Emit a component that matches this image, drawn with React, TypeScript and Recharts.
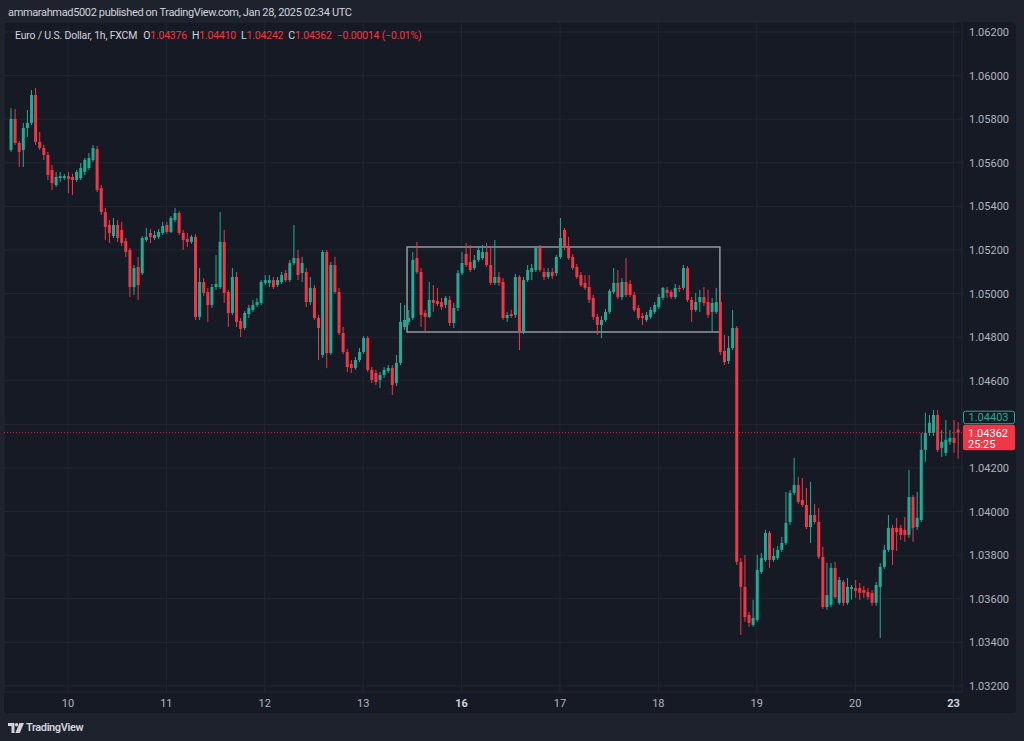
import {
  ComposedChart,
  Bar,
  XAxis,
  YAxis,
  CartesianGrid,
  ReferenceArea,
  ReferenceLine,
} from 'recharts';

// EUR/USD 1h candles, Dec 9 – Dec 23 2024 (FXCM)
const opens = [
  1.05659, 1.05801, 1.05691, 1.05659, 1.0576, 1.05783, 1.05911, 1.05696, 1.05668, 1.05636, 1.05567, 1.05498,
  1.0553, 1.0553, 1.05539, 1.05535, 1.05521, 1.0553, 1.05558, 1.05576, 1.05613, 1.05663, 1.05484, 1.05374,
  1.05315, 1.05264, 1.05315, 1.05292, 1.05241, 1.052, 1.0503, 1.05122, 1.05094, 1.05246, 1.05278, 1.05255,
  1.0526, 1.05278, 1.05315, 1.05283, 1.05338, 1.0537, 1.05278, 1.0525, 1.05237, 1.0526, 1.04893, 1.05053,
  1.05007, 1.04948, 1.0503, 1.0503, 1.05237, 1.05007, 1.04911, 1.05076, 1.04874, 1.04842, 1.04906, 1.04925,
  1.04948, 1.04957, 1.05049, 1.05049, 1.05062, 1.05039, 1.05053, 1.05094, 1.05062, 1.0514, 1.05163, 1.05094,
  1.05099, 1.04961, 1.05026, 1.04888, 1.04718, 1.05191, 1.04727, 1.05131, 1.05007, 1.04819, 1.04732, 1.04677,
  1.04659, 1.04695, 1.04732, 1.04796, 1.0465, 1.04636, 1.04604, 1.04627, 1.04645, 1.04659, 1.0459, 1.04682,
  1.04847, 1.0487, 1.04888, 1.05163, 1.05099, 1.04911, 1.04893, 1.04971, 1.04966, 1.04961, 1.04948, 1.04971,
  1.04865, 1.04934, 1.05094, 1.05182, 1.05145, 1.05117, 1.05154, 1.05163, 1.05191, 1.05131, 1.05049, 1.05076,
  1.05053, 1.04888, 1.04906, 1.04902, 1.05076, 1.04824, 1.05062, 1.05099, 1.05108, 1.05209, 1.05099, 1.05076,
  1.05099, 1.05094, 1.05168, 1.05292, 1.05214, 1.05168, 1.05122, 1.05085, 1.05049, 1.0503, 1.0498, 1.04893,
  1.04856, 1.04879, 1.04916, 1.05007, 1.05049, 1.04984, 1.05053, 1.05044, 1.04994, 1.04934, 1.04897, 1.04879,
  1.04893, 1.04916, 1.04938, 1.0498, 1.05017, 1.05007, 1.04984, 1.05026, 1.05026, 1.05117, 1.04971, 1.04925,
  1.04961, 1.04984, 1.04961, 1.04916, 1.04916, 1.04961, 1.04737, 1.04691, 1.0475, 1.04842, 1.03769, 1.03654,
  1.03526, 1.0348, 1.03503, 1.03723, 1.03778, 1.03902, 1.03778, 1.03787, 1.03824, 1.03856, 1.03952, 1.04086,
  1.04122, 1.04053, 1.0403, 1.03929, 1.03984, 1.03952, 1.03792, 1.03562, 1.03572, 1.03741, 1.03581, 1.03677,
  1.03581, 1.03645, 1.03649, 1.03649, 1.0364, 1.03631, 1.03627, 1.03581, 1.03654, 1.03746, 1.03824, 1.03925,
  1.03925, 1.03925, 1.03916, 1.03893, 1.04067, 1.03929, 1.03961, 1.04283, 1.04361, 1.04361, 1.04443, 1.04292,
  1.04269, 1.0432, 1.04338, 1.04376,
];

const highs = [
  1.05851, 1.05847, 1.057, 1.05783, 1.05842, 1.05934, 1.05943, 1.05741, 1.05682, 1.0565, 1.0559, 1.05558,
  1.05558, 1.05549, 1.05558, 1.05549, 1.05567, 1.05599, 1.05622, 1.05645, 1.05682, 1.05677, 1.05498, 1.05393,
  1.05338, 1.05347, 1.05338, 1.05329, 1.05255, 1.05209, 1.05131, 1.05168, 1.05264, 1.05301, 1.05297, 1.05287,
  1.05297, 1.05329, 1.05329, 1.05356, 1.05393, 1.05379, 1.05292, 1.05278, 1.05269, 1.05273, 1.05117, 1.05071,
  1.05026, 1.05044, 1.05177, 1.05374, 1.05292, 1.05017, 1.05117, 1.05099, 1.04888, 1.0492, 1.04948, 1.04971,
  1.0498, 1.05062, 1.05085, 1.05085, 1.05076, 1.05076, 1.05099, 1.05108, 1.05154, 1.05315, 1.052, 1.05168,
  1.05117, 1.05076, 1.05039, 1.04902, 1.052, 1.052, 1.05145, 1.05168, 1.05026, 1.04847, 1.04746, 1.04695,
  1.04709, 1.0475, 1.04805, 1.04805, 1.04663, 1.0465, 1.0464, 1.04663, 1.04672, 1.04672, 1.04718, 1.04957,
  1.04948, 1.04925, 1.05191, 1.05237, 1.05117, 1.04925, 1.05053, 1.05039, 1.05026, 1.0498, 1.04989, 1.04989,
  1.04957, 1.05108, 1.05191, 1.05232, 1.05223, 1.05177, 1.05218, 1.05223, 1.05232, 1.05209, 1.05246, 1.05099,
  1.05071, 1.04916, 1.04925, 1.0509, 1.05085, 1.05076, 1.05131, 1.05136, 1.05218, 1.05223, 1.05117, 1.05117,
  1.05117, 1.05177, 1.05347, 1.05301, 1.0526, 1.05182, 1.05136, 1.05099, 1.05085, 1.05085, 1.04994, 1.04906,
  1.04897, 1.04929, 1.05021, 1.05117, 1.05108, 1.05071, 1.05163, 1.05062, 1.05007, 1.04948, 1.04911, 1.04916,
  1.04938, 1.04961, 1.04998, 1.0503, 1.0503, 1.05017, 1.05044, 1.05039, 1.05131, 1.05126, 1.04984, 1.05003,
  1.05017, 1.0503, 1.05017, 1.0498, 1.05026, 1.05007, 1.0481, 1.04805, 1.04925, 1.04851, 1.03787, 1.03801,
  1.03539, 1.03595, 1.03801, 1.0381, 1.03916, 1.03911, 1.03833, 1.03842, 1.03884, 1.0409, 1.04099, 1.04246,
  1.04159, 1.04154, 1.04108, 1.04136, 1.04035, 1.04016, 1.03838, 1.03764, 1.03764, 1.03769, 1.037, 1.03686,
  1.03695, 1.03663, 1.03686, 1.03672, 1.03659, 1.03649, 1.0364, 1.03677, 1.03764, 1.03847, 1.03984, 1.03939,
  1.03971, 1.03939, 1.03975, 1.04191, 1.04076, 1.0409, 1.04361, 1.04453, 1.04443, 1.04466, 1.04466, 1.04375,
  1.0442, 1.04375, 1.0442, 1.0441,
];

const lows = [
  1.0565, 1.05682, 1.05581, 1.05581, 1.05719, 1.05774, 1.05682, 1.05659, 1.05613, 1.05521, 1.05475, 1.05489,
  1.05512, 1.05521, 1.05461, 1.05452, 1.05512, 1.05521, 1.05544, 1.05567, 1.05604, 1.05466, 1.05361, 1.05246,
  1.05232, 1.05255, 1.05237, 1.05218, 1.05168, 1.04984, 1.04994, 1.04971, 1.05085, 1.05237, 1.05232, 1.05246,
  1.0525, 1.05269, 1.05274, 1.05278, 1.05329, 1.05269, 1.052, 1.05214, 1.05228, 1.04879, 1.04879, 1.04989,
  1.0487, 1.04934, 1.05017, 1.05021, 1.04957, 1.04847, 1.04902, 1.04847, 1.04801, 1.04833, 1.04888, 1.04916,
  1.04938, 1.04948, 1.05039, 1.0503, 1.05021, 1.0503, 1.05044, 1.05053, 1.05053, 1.05131, 1.05062, 1.05053,
  1.04938, 1.04948, 1.04879, 1.04695, 1.04705, 1.04658, 1.04718, 1.04998, 1.0481, 1.04723, 1.0464, 1.04636,
  1.0465, 1.04686, 1.04723, 1.0464, 1.0459, 1.04581, 1.04567, 1.04613, 1.04636, 1.04535, 1.04576, 1.04672,
  1.04833, 1.04856, 1.04879, 1.0509, 1.04847, 1.04824, 1.04888, 1.04916, 1.04943, 1.04925, 1.04934, 1.04851,
  1.04842, 1.0492, 1.05085, 1.05122, 1.05099, 1.05108, 1.05145, 1.05154, 1.05122, 1.05039, 1.05039, 1.05035,
  1.04879, 1.0487, 1.04888, 1.04888, 1.04741, 1.04815, 1.05053, 1.05062, 1.05099, 1.05099, 1.05062, 1.05067,
  1.05067, 1.05081, 1.05159, 1.052, 1.05154, 1.05108, 1.05067, 1.0503, 1.05017, 1.04957, 1.04879, 1.0481,
  1.04796, 1.0487, 1.04906, 1.04998, 1.04975, 1.04971, 1.04984, 1.04984, 1.04916, 1.04879, 1.04856, 1.0487,
  1.04884, 1.04906, 1.04929, 1.04971, 1.0498, 1.04975, 1.04975, 1.05007, 1.05017, 1.04961, 1.0487, 1.04916,
  1.04916, 1.04943, 1.04888, 1.04824, 1.04906, 1.04718, 1.04672, 1.04677, 1.04741, 1.03755, 1.03434, 1.03494,
  1.03471, 1.03471, 1.03494, 1.03714, 1.03769, 1.03741, 1.03769, 1.03778, 1.03815, 1.03847, 1.03939, 1.04076,
  1.04035, 1.04021, 1.0392, 1.03856, 1.03943, 1.03783, 1.03553, 1.03549, 1.03562, 1.03599, 1.03572, 1.03567,
  1.03572, 1.03595, 1.03604, 1.03595, 1.03604, 1.03595, 1.03567, 1.03567, 1.0342, 1.03737, 1.03815, 1.03755,
  1.03819, 1.0387, 1.03861, 1.03879, 1.03861, 1.03916, 1.03952, 1.04228, 1.04347, 1.04347, 1.04273, 1.04251,
  1.04255, 1.04306, 1.04269, 1.04242,
];

const closes = [
  1.05801, 1.05691, 1.0565, 1.0576, 1.05783, 1.05911, 1.05696, 1.05668, 1.05636, 1.05544, 1.05507, 1.05535,
  1.05539, 1.05539, 1.05526, 1.05521, 1.05558, 1.05576, 1.05613, 1.05622, 1.05668, 1.05475, 1.05374, 1.05306,
  1.05278, 1.05315, 1.05255, 1.05232, 1.05191, 1.0503, 1.05117, 1.05039, 1.05255, 1.0526, 1.0526, 1.05269,
  1.05283, 1.0531, 1.05283, 1.05347, 1.0537, 1.05278, 1.05246, 1.05237, 1.0526, 1.04893, 1.05053, 1.05003,
  1.04948, 1.0503, 1.05044, 1.05237, 1.05003, 1.04911, 1.05076, 1.0487, 1.04838, 1.04911, 1.04934, 1.04948,
  1.04961, 1.05053, 1.05062, 1.05062, 1.0503, 1.05062, 1.05085, 1.05062, 1.0514, 1.05163, 1.05085, 1.0514,
  1.04961, 1.05026, 1.04888, 1.04842, 1.05191, 1.04727, 1.05131, 1.05007, 1.04819, 1.04732, 1.04663, 1.04659,
  1.04695, 1.04732, 1.04796, 1.0465, 1.04604, 1.04594, 1.04627, 1.0465, 1.04659, 1.04581, 1.04682, 1.0487,
  1.04879, 1.04888, 1.05154, 1.05099, 1.04902, 1.04893, 1.04971, 1.04957, 1.04952, 1.04938, 1.0498, 1.04865,
  1.04934, 1.05094, 1.0514, 1.05131, 1.05108, 1.05154, 1.052, 1.05191, 1.05131, 1.05049, 1.05076, 1.05049,
  1.04888, 1.04902, 1.04897, 1.05076, 1.04824, 1.05062, 1.05108, 1.05117, 1.05209, 1.05108, 1.05076, 1.05099,
  1.05081, 1.05168, 1.05255, 1.05209, 1.05163, 1.05117, 1.05076, 1.05039, 1.05026, 1.04971, 1.04893, 1.04856,
  1.04879, 1.04916, 1.05012, 1.05049, 1.04984, 1.05053, 1.04994, 1.04994, 1.04925, 1.04888, 1.04888, 1.04902,
  1.04925, 1.04948, 1.04984, 1.05026, 1.05003, 1.04984, 1.05026, 1.05021, 1.05117, 1.04971, 1.04925, 1.04961,
  1.04984, 1.04957, 1.04902, 1.04957, 1.04961, 1.04732, 1.04686, 1.0475, 1.04842, 1.03769, 1.03654, 1.03516,
  1.03489, 1.03512, 1.03732, 1.03787, 1.03902, 1.03778, 1.03796, 1.03824, 1.03856, 1.03948, 1.04086, 1.04122,
  1.04044, 1.0403, 1.03929, 1.03984, 1.03952, 1.03792, 1.03562, 1.03617, 1.03741, 1.03608, 1.03686, 1.03581,
  1.03654, 1.03654, 1.03636, 1.03627, 1.03627, 1.03608, 1.03581, 1.03663, 1.03746, 1.03824, 1.03925, 1.03824,
  1.03906, 1.03893, 1.03893, 1.04067, 1.03925, 1.03971, 1.04283, 1.04361, 1.04407, 1.04443, 1.04283, 1.0432,
  1.04329, 1.04338, 1.04315, 1.04362,
];

// candle index of each day's first bar, and its label
const dayIndex = [14, 38, 62, 86, 110, 134, 158, 182, 206, 230];
const dayLabels = ['10', '11', '12', '13', '16', '17', '18', '19', '20', '23'];
const weekStarts = ['16', '23'];

const priceTicks = [
  1.032, 1.034, 1.036, 1.038, 1.04, 1.042, 1.044, 1.046, 1.048, 1.05, 1.052, 1.054, 1.056, 1.058, 1.06, 1.062,
];
// tick whose label is covered by the price tags
const hiddenTick = 1.044;

// range box drawn on the chart (from bar, to bar, low, high)
const boxFrom = 96.7;
const boxTo = 173;
const boxLow = 1.04824;
const boxHigh = 1.05214;

const lastPrice = 1.04362;
const askPrice = 1.04403;
const countdown = '25:25';

const UP = '#22ab94';
const DOWN = '#f23645';
const TEXT = '#b2b5be';
const GRID = '#222631';
const FONT = 'Roboto, "Liberation Sans", sans-serif';

const data = opens.map((o, i) => ({
  i,
  o,
  h: highs[i],
  l: lows[i],
  c: closes[i],
  range: [lows[i], highs[i]],
}));

function Candle(props: any) {
  const { x, y, width, height, payload } = props;
  if (!payload) return null;
  const { o, h, l, c } = payload;
  const top = Math.min(y, y + height);
  const span = Math.abs(height);
  const k = h > l ? span / (h - l) : 0;
  const yOf = (v: number) => top + (h - v) * k;
  const color = c >= o ? UP : DOWN;
  const cx = x + width / 2;
  const bTop = yOf(Math.max(o, c));
  const bBot = yOf(Math.min(o, c));
  return (
    <g>
      <line x1={cx} x2={cx} y1={top} y2={top + span} stroke={color} strokeWidth={1} />
      <rect x={x} y={bTop} width={width} height={Math.max(1, bBot - bTop)} fill={color} />
    </g>
  );
}

function DayTick({ x, payload }: any) {
  const label = dayLabels[dayIndex.indexOf(payload.value)];
  const bold = weekStarts.includes(label);
  return (
    <text
      x={x}
      y={707}
      textAnchor="middle"
      fill={bold ? '#d1d4dc' : TEXT}
      fontWeight={bold ? 700 : 400}
      fontSize={11}
      fontFamily={FONT}
    >
      {label}
    </text>
  );
}

function PriceTick({ y, payload }: any) {
  if (Math.abs(payload.value - hiddenTick) < 1e-9) return <g />;
  return (
    <text x={969} y={y + 4} fill={TEXT} fontSize={11} fontFamily={FONT}>
      {payload.value.toFixed(5)}
    </text>
  );
}

function LastTag({ viewBox }: any) {
  if (!viewBox) return null;
  const x = viewBox.x + viewBox.width + 1;
  const y = viewBox.y;
  return (
    <g fontFamily={FONT} fontSize={11}>
      <rect x={x} y={y - 8} width={52} height={25.5} rx={2} fill={DOWN} />
      <text x={x + 5} y={y + 4} fill="#ffffff">
        {lastPrice.toFixed(5)}
      </text>
      <text x={x + 5} y={y + 15} fill="#ffffff">
        {countdown}
      </text>
    </g>
  );
}

function AskTag({ viewBox }: any) {
  if (!viewBox) return null;
  const x = viewBox.x + viewBox.width + 1.5;
  const y = viewBox.y;
  return (
    <g fontFamily={FONT} fontSize={11}>
      <rect x={x} y={y - 12.5} width={51} height={12.5} rx={2} fill="#161a25" stroke={UP} strokeWidth={1} />
      <text x={x + 5} y={y - 2.5} fill={UP}>
        {askPrice.toFixed(5)}
      </text>
    </g>
  );
}

function Logo() {
  return (
    <svg width={16} height={10} viewBox="0 0 16 10" style={{ display: 'block' }}>
      <path d="M0 0h6.5v10H3.5V3H0z" fill="#d1d4dc" />
      <circle cx={8.6} cy={1.7} r={1.7} fill="#d1d4dc" />
      <path d="M11.5 0H16l-4.2 10H7.3z" fill="#d1d4dc" />
    </svg>
  );
}

export default function App() {
  return (
    <div
      style={{
        position: 'absolute',
        left: 0,
        top: 0,
        width: 1024,
        height: 741,
        background: '#1e222d',
        fontFamily: FONT,
        overflow: 'hidden',
      }}
    >
      {/* Publisher line */}
      <div
        style={{
          position: 'absolute',
          left: 8,
          top: 6,
          fontSize: 11,
          letterSpacing: -0.35,
          color: '#d1d4dc',
          whiteSpace: 'nowrap',
        }}
      >
        ammarahmad5002 published on TradingView.com, Jan 28, 2025 02:34 UTC
      </div>

      {/* Chart panel */}
      <div
        style={{
          position: 'absolute',
          left: 4,
          top: 22,
          width: 1012,
          height: 691,
          background: '#161a25',
          borderRadius: 4,
        }}
      />

      <div style={{ position: 'absolute', left: 0, top: 0 }}>
        <ComposedChart
          width={1024}
          height={741}
          data={data}
          margin={{ top: 22, right: 8, bottom: 28, left: 4 }}
        >
          <CartesianGrid stroke={GRID} strokeWidth={1} />
          <XAxis
            dataKey="i"
            type="number"
            domain={[-1.6, 232.05]}
            ticks={dayIndex}
            interval={0}
            axisLine={false}
            tickLine={false}
            height={21}
            tick={<DayTick />}
          />
          <YAxis
            orientation="right"
            type="number"
            domain={[1.03172, 1.06246]}
            ticks={priceTicks}
            interval={0}
            axisLine={false}
            tickLine={false}
            width={54}
            tick={<PriceTick />}
          />
          <ReferenceArea
            x1={boxFrom}
            x2={boxTo}
            y1={boxLow}
            y2={boxHigh}
            stroke="#9598a1"
            strokeWidth={1.5}
            fill="none"
            fillOpacity={0}
            ifOverflow="visible"
          />
          <Bar dataKey="range" barSize={3} shape={<Candle />} isAnimationActive={false} />
          <ReferenceLine y={askPrice} stroke="none" strokeOpacity={0} label={<AskTag />} ifOverflow="visible" />
          <ReferenceLine
            y={lastPrice}
            stroke={DOWN}
            strokeOpacity={0.8}
            strokeDasharray="1 2"
            label={<LastTag />}
            ifOverflow="visible"
          />
        </ComposedChart>
      </div>

      {/* Legend */}
      <div
        style={{
          position: 'absolute',
          left: 15,
          top: 29,
          fontSize: 10.5,
          letterSpacing: -0.2,
          color: '#d1d4dc',
          display: 'flex',
          gap: 5,
          whiteSpace: 'nowrap',
        }}
      >
        <span style={{ marginRight: 1 }}>Euro / U.S. Dollar, 1h, FXCM</span>
        <span>
          O<span style={{ color: DOWN }}>1.04376</span>
        </span>
        <span>
          H<span style={{ color: DOWN }}>1.04410</span>
        </span>
        <span>
          L<span style={{ color: DOWN }}>1.04242</span>
        </span>
        <span>
          C<span style={{ color: DOWN }}>1.04362</span>
        </span>
        <span style={{ color: DOWN }}>−0.00014 (−0.01%)</span>
      </div>

      {/* Footer logo */}
      <div
        style={{
          position: 'absolute',
          left: 8,
          top: 721,
          display: 'flex',
          alignItems: 'center',
          gap: 2,
          color: '#d1d4dc',
          fontSize: 11,
          letterSpacing: -0.4,
          fontWeight: 600,
        }}
      >
        <Logo />
        <span>TradingView</span>
      </div>
    </div>
  );
}
